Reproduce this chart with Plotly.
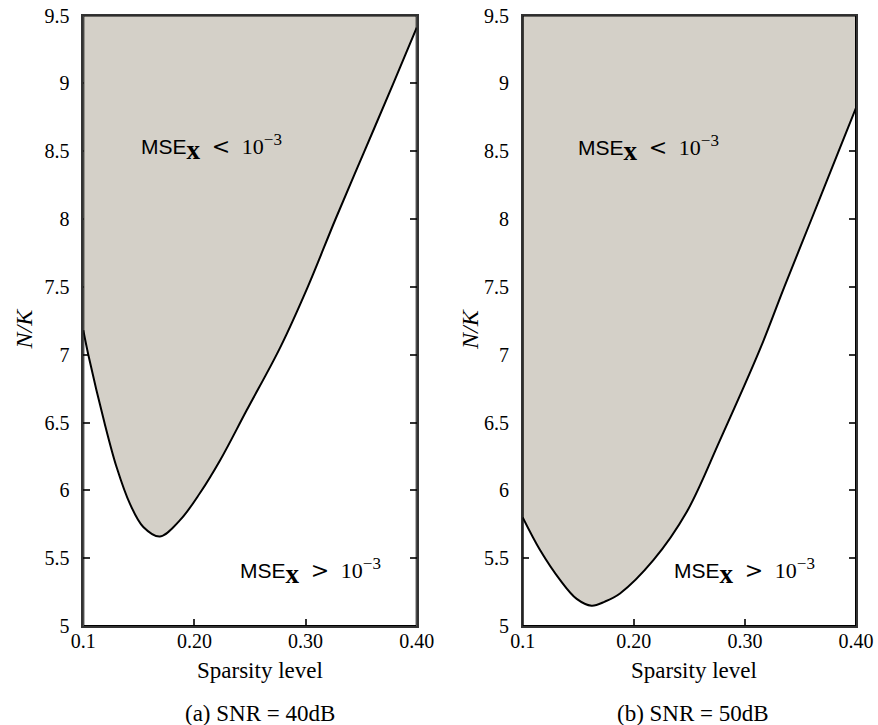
import plotly.graph_objects as go

# ---- data ----
# (a) SNR = 40dB : boundary curve of MSE_x = 1e-3
xa = [0.100, 0.1045, 0.119, 0.130, 0.142, 0.154, 0.169, 0.187, 0.205, 0.223,
      0.247, 0.277, 0.302, 0.327, 0.353, 0.379, 0.400]
ya = [7.18, 7.00, 6.50, 6.17, 5.90, 5.73, 5.66, 5.78, 5.98, 6.22,
      6.59, 7.05, 7.50, 8.00, 8.50, 9.00, 9.41]
# (b) SNR = 50dB
xb = [0.100, 0.1156, 0.1336, 0.1486, 0.162, 0.174, 0.1876, 0.2176, 0.2476,
      0.2776, 0.3136, 0.3355, 0.360, 0.3844, 0.400]
yb = [5.80, 5.56, 5.34, 5.20, 5.15, 5.18, 5.24, 5.485, 5.84,
      6.37, 7.04, 7.50, 8.00, 8.50, 8.82]

x_range = [0.1, 0.4]
y_range = [5.0, 9.5]
x_ticks = [0.1, 0.2, 0.3, 0.4]
x_ticklabels = ["0.1", "0.20", "0.30", "0.40"]
y_ticks = [5, 5.5, 6, 6.5, 7, 7.5, 8, 8.5, 9, 9.5]
y_ticklabels = ["5", "5.5", "6", "6.5", "7", "7.5", "8", "8.5", "9", "9.5"]
captions = ["(a) SNR = 40dB", "(b) SNR = 50dB"]
x_title = "Sparsity level"
y_title = "<i>N/K</i>"

FILL = "#d4d0c8"
SERIF = "Liberation Serif"
SANS = "Liberation Sans"

W, H = 878, 725
dom_a = [83.3 / W, 416.7 / W]
dom_b = [522.7 / W, 856.0 / W]
dom_y = [1 - 626.0 / H, 1 - 15.5 / H]

fig = go.Figure()

panels = [(xa, ya, "x", "y"), (xb, yb, "x2", "y2")]
for cx, cy, xr, yr in panels:
    fig.add_trace(go.Scatter(x=[x_range[0], x_range[1]], y=[y_range[1], y_range[1]],
                             mode="lines", line=dict(width=0), xaxis=xr, yaxis=yr,
                             showlegend=False, hoverinfo="skip"))
    fig.add_trace(go.Scatter(x=cx, y=cy, mode="lines", fill="tonexty", fillcolor=FILL,
                             line=dict(color="black", width=2, shape="spline", smoothing=1.0),
                             xaxis=xr, yaxis=yr, showlegend=False))

axis_common = dict(showgrid=False, zeroline=False, showline=True, linecolor="#333333",
                   linewidth=1.5, mirror="ticks", ticks="inside", ticklen=7, tickwidth=1.5,
                   tickcolor="#333333", layer="below traces", automargin=False,
                   tickfont=dict(family=SERIF, size=20, color="black"))

fig.update_layout(
    width=W, height=H, margin=dict(l=0, r=0, t=0, b=0, pad=0, autoexpand=False),
    paper_bgcolor="white", plot_bgcolor="white", showlegend=False,
    xaxis=dict(domain=dom_a, range=x_range, tickvals=x_ticks, ticktext=x_ticklabels,
               anchor="y", ticklabelstandoff=-4, **axis_common),
    yaxis=dict(domain=dom_y, range=y_range, tickvals=y_ticks, ticktext=y_ticklabels,
               anchor="x", ticklabelstandoff=8, **axis_common),
    xaxis2=dict(domain=dom_b, range=x_range, tickvals=x_ticks, ticktext=x_ticklabels,
                anchor="y2", ticklabelstandoff=-4, **axis_common),
    yaxis2=dict(domain=dom_y, range=y_range, tickvals=y_ticks, ticktext=y_ticklabels,
                anchor="x2", ticklabelstandoff=8, **axis_common),
)

# border box on top of the fill
for xr, yr in [("x", "y"), ("x2", "y2")]:
    fig.add_shape(type="rect", xref=xr, yref=yr, x0=x_range[0], x1=x_range[1],
                  y0=y_range[0], y1=y_range[1], line=dict(color="black", width=2),
                  layer="above")

NB = "\u00a0"

def mse_text(op):
    return ("MSE<sub><span style='font-family:" + SERIF
            + ";font-weight:bold;font-size:27px'>x</span></sub>"
            + NB + NB
            + "<span style='font-family:DejaVu Serif;font-size:22px'>" + op + "</span>"
            + NB + NB
            + "<span style='font-family:" + SERIF + ";font-size:22px'>10<sup>"
            + "<span style='font-size:17px'>−3</span></sup></span>")

labels = [
    ("x", "y", 0.150, 8.53, mse_text("&lt;")),
    ("x", "y", 0.239, 5.40, mse_text("&gt;")),
    ("x2", "y2", 0.148, 8.52, mse_text("&lt;")),
    ("x2", "y2", 0.2345, 5.40, mse_text("&gt;")),
]
for xr, yr, x, y, t in labels:
    fig.add_annotation(xref=xr, yref=yr, x=x, y=y, text=t, showarrow=False,
                       xanchor="left", yanchor="middle",
                       font=dict(family=SANS, size=21, color="black"))

# axis titles and captions (positions in pixels of the page)
def px(xp, yp):
    return xp / W, 1 - yp / H

for cxp, ylab_x in [(260, 23.5), (694, 470)]:
    x0, y0 = px(cxp, 670)
    fig.add_annotation(xref="paper", yref="paper", x=x0, y=y0, text=x_title,
                       showarrow=False, xanchor="center", yanchor="middle",
                       font=dict(family=SERIF, size=23, color="black"))
    x1, y1 = px(ylab_x, 329)
    fig.add_annotation(xref="paper", yref="paper", x=x1, y=y1, text=y_title,
                       showarrow=False, xanchor="center", yanchor="middle", textangle=-90,
                       font=dict(family=SERIF, size=24, color="black"))
for cxp, cap in zip([260, 693], captions):
    x0, y0 = px(cxp, 713)
    fig.add_annotation(xref="paper", yref="paper", x=x0, y=y0, text=cap,
                       showarrow=False, xanchor="center", yanchor="middle",
                       font=dict(family=SERIF, size=23, color="black"))

fig.write_html("out.html")
